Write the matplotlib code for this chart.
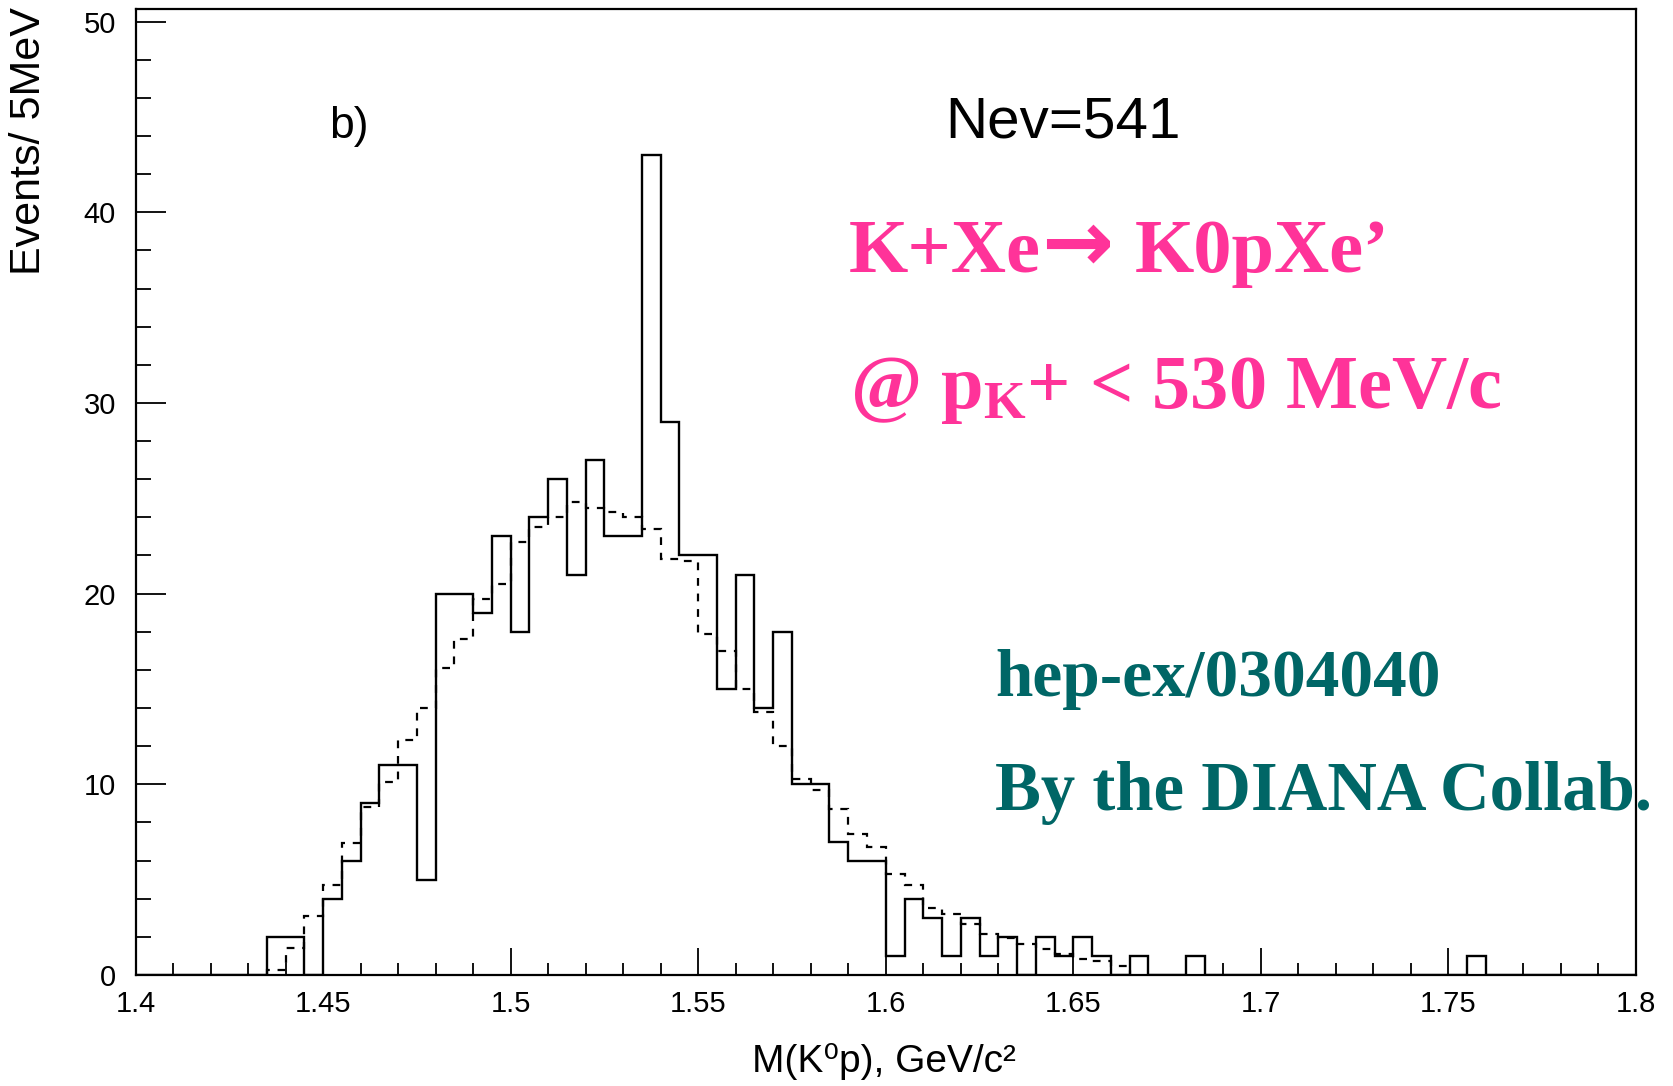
import numpy as np
import matplotlib
matplotlib.use("Agg")
import matplotlib.pyplot as plt
from matplotlib.ticker import MultipleLocator

# M(K0 p) histogram, 5 MeV bins from 1.40 to 1.80 GeV
counts = [0, 0, 0, 0, 0, 0, 0, 2, 2, 0,
          4, 6, 9, 11, 11, 5, 20, 20, 19, 23,
          18, 24, 26, 21, 27, 23, 23, 43, 29, 22,
          22, 15, 21, 14, 18, 10, 10, 7, 6, 6,
          1, 4, 3, 1, 3, 1, 2, 0, 2, 1,
          2, 1, 0, 1, 0, 0, 1, 0, 0, 0,
          0, 0, 0, 0, 0, 0, 0, 0, 0, 0,
          0, 1, 0, 0, 0, 0, 0, 0, 0, 0]

# dashed background curve, bins 7..52
bg_first_bin = 7
bg_values = [0.25, 1.4, 3.1, 4.7, 6.9, 8.8, 10.1, 12.3, 14.0, 16.1,
             17.6, 19.7, 20.5, 22.7, 23.5, 24.0, 24.8, 24.5, 24.3, 24.0,
             23.4, 21.8, 21.7, 17.9, 17.0, 15.0, 13.8, 12.0, 10.3, 9.7,
             8.7, 7.4, 6.7, 5.3, 4.7, 3.5, 3.2, 2.7, 2.15, 1.95,
             1.63, 1.37, 1.1, 0.85, 0.75, 0.46]

xtick_values = [1.4, 1.45, 1.5, 1.55, 1.6, 1.65, 1.7, 1.75, 1.8]
xtick_labels = ["1.4", "1.45", "1.5", "1.55", "1.6", "1.65", "1.7", "1.75", "1.8"]
ytick_values = [0, 10, 20, 30, 40, 50]
ytick_labels = ["0", "10", "20", "30", "40", "50"]

W, H = 1673, 1086
SANS = ["Liberation Sans", "DejaVu Sans"]
SERIF = ["Liberation Serif", "DejaVu Serif"]
PINK = "#FF3399"
TEAL = "#006666"

plt.rcParams["mathtext.fontset"] = "custom"
plt.rcParams["mathtext.rm"] = "Liberation Serif:bold"
plt.rcParams["mathtext.bf"] = "Liberation Serif:bold"
plt.rcParams["mathtext.it"] = "Liberation Serif:bold"


def fx(x):
    return x / W


def fy(y):
    return 1 - y / H


edges = np.linspace(1.4, 1.8, len(counts) + 1)
bg_edges = edges[bg_first_bin:bg_first_bin + len(bg_values) + 1]

fig = plt.figure(figsize=(W / 100, H / 100), dpi=100)
ax = fig.add_axes([fx(135.5), fy(975), (1636 - 135.5) / W, (975 - 9) / H])

ax.stairs(counts, edges, color="black", linewidth=1.7)
ax.stairs(bg_values, bg_edges, color="black", linewidth=1.6,
          linestyle=(0, (3.5, 3.5)))

ax.set_xlim(1.4, 1.8)
ax.set_ylim(0, 50.66)
ax.set_xticks(xtick_values, xtick_labels)
ax.set_yticks(ytick_values, ytick_labels)
ax.xaxis.set_minor_locator(MultipleLocator(0.01))
ax.yaxis.set_minor_locator(MultipleLocator(2))

for lab in ax.get_xticklabels() + ax.get_yticklabels():
    lab.set_family(SANS)
    lab.set_fontsize(21)

ax.tick_params(axis="both", which="both", direction="in", top=False, right=False,
               width=1.3, color="black")
ax.tick_params(axis="x", which="major", length=19.5, pad=11)
ax.tick_params(axis="x", which="minor", length=8.6)
ax.tick_params(axis="y", which="major", length=21.6, pad=14)
ax.tick_params(axis="y", which="minor", length=11)
for sp in ax.spines.values():
    sp.set_linewidth(1.6)

# axis titles
fig.text(fx(29), fy(141), "Events/ 5MeV", rotation=90, ha="center", va="center",
         family=SANS, fontsize=31)
fig.text(fx(884), fy(1062), "M(K\u2070p), GeV/c\u00b2", ha="center", va="center",
         family=SANS, fontsize=28)

# in-plot labels
fig.text(fx(329), fy(138), "b)", ha="left", va="baseline", family=SANS, fontsize=32)
fig.text(fx(945), fy(138), "Nev=541", ha="left", va="baseline", family=SANS, fontsize=42)

fig.text(fx(849), fy(272), "K+Xe", ha="left", va="baseline",
         family=SERIF, fontweight="bold", fontsize=55, color=PINK)
fig.text(fx(1077), fy(271), "\u2192", ha="center", va="baseline",
         family=["DejaVu Sans"], fontweight="bold", fontsize=62, color=PINK)
fig.text(fx(1135), fy(272), "K0pXe\u2019", ha="left", va="baseline",
         family=SERIF, fontweight="bold", fontsize=55, color=PINK)
fig.text(fx(850), fy(408), r"@ $\mathbf{p}_{\mathbf{K}}$+ < 530 MeV/c", ha="left",
         va="baseline", family=SERIF, fontweight="bold", fontsize=55, color=PINK)

fig.text(fx(995), fy(696), "hep-ex/0304040", ha="left", va="baseline",
         family=SERIF, fontweight="bold", fontsize=48.5, color=TEAL)
fig.text(fx(995), fy(810), "By the DIANA Collab.", ha="left", va="baseline",
         family=SERIF, fontweight="bold", fontsize=49.5, color=TEAL)

fig.savefig("out.png", dpi=100)
